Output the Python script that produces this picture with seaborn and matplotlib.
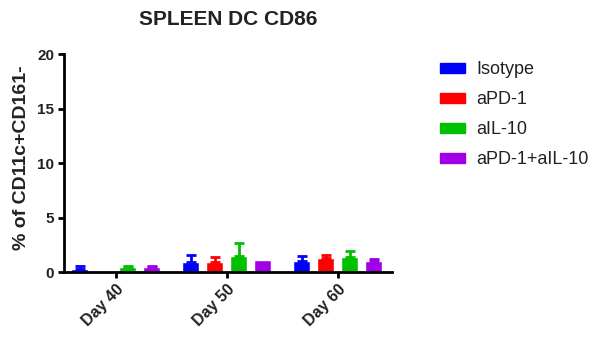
import matplotlib
matplotlib.use("Agg")
import matplotlib.pyplot as plt
import seaborn as sns
import pandas as pd
from matplotlib.patches import Patch

sns.set_theme(style="ticks")
plt.rcParams['font.family'] = ['Liberation Sans', 'DejaVu Sans']

days = ["Day 40", "Day 50", "Day 60"]
groups = ["Isotype", "aPD-1", "aIL-10", "aPD-1+aIL-10"]
colors = ["#0000FF", "#FF0000", "#00C000", "#A100E6"]

# mean % per group, one list per treatment (ordered by day)
isotype_mean = [0.30, 0.92, 1.04]
apd1_mean = [0.0, 0.92, 1.28]
ail10_mean = [0.46, 1.52, 1.40]
combo_mean = [0.46, 1.16, 1.04]

# upper error (SEM) per group
isotype_err = [0.31, 0.67, 0.43]
apd1_err = [0.0, 0.51, 0.31]
ail10_err = [0.15, 1.14, 0.55]
combo_err = [0.12, 0.0, 0.21]

means = [isotype_mean, apd1_mean, ail10_mean, combo_mean]
errs = [isotype_err, apd1_err, ail10_err, combo_err]

df = pd.DataFrame({
    "day": [d for g in groups for d in days],
    "group": [g for g in groups for d in days],
    "value": [v for m in means for v in m],
})

fig = plt.figure(figsize=(6.09, 3.37), dpi=100)
ax = fig.add_axes([0.105, 0.192, 0.539, 0.647])

sns.barplot(data=df, x="day", y="value", hue="group", order=days,
            hue_order=groups, palette=colors, width=0.865, gap=0.30,
            errorbar=None, saturation=1, ax=ax, legend=False)

# one-sided error bars on top of each bar
for gi, g in enumerate(groups):
    cont = ax.containers[gi]
    for di, bar in enumerate(cont):
        e = errs[gi][di]
        m = means[gi][di]
        if e <= 0:
            continue
        xc = bar.get_x() + bar.get_width() / 2
        ax.errorbar(xc, m, yerr=[[0], [e]], fmt="none", ecolor=colors[gi],
                    elinewidth=2, capsize=3.5, capthick=2)

ax.set_ylim(0, 20)
ax.set_yticks([0, 5, 10, 15, 20])
ax.set_xlim(-0.466, 2.49)
sns.despine(ax=ax)
for s in ["left", "bottom"]:
    ax.spines[s].set_linewidth(2)
    ax.spines[s].set_color("black")
ax.tick_params(axis="both", direction="out", length=4, width=2, color="black",
               labelsize=11, labelcolor="#222222", pad=3)
ax.tick_params(axis="x", labelsize=11.5)
for lbl in ax.get_yticklabels():
    lbl.set_fontweight("bold")
ax.set_xticks(range(len(days)))
ax.set_xticklabels(days, rotation=45, ha="right", rotation_mode="anchor",
                   fontweight="bold")
ax.set_xlabel("")
ax.set_ylabel("% of CD11c+CD161-", fontsize=14, fontweight="bold",
              color="#222222")
ax.yaxis.set_label_coords(-0.104, 0.527)
ax.set_title("SPLEEN DC CD86", fontsize=15, fontweight="bold",
             color="#222222", pad=21)

handles = [Patch(facecolor=c, edgecolor=c) for c in colors]
fig.legend(handles, groups, loc="upper left", bbox_to_anchor=(0.7225, 0.818),
           frameon=False, fontsize=13, handlelength=1.4, handleheight=0.55,
           labelspacing=0.72, handletextpad=0.6, borderpad=0,
           borderaxespad=0, labelcolor="#222222")

fig.savefig("out.png", dpi=100)
